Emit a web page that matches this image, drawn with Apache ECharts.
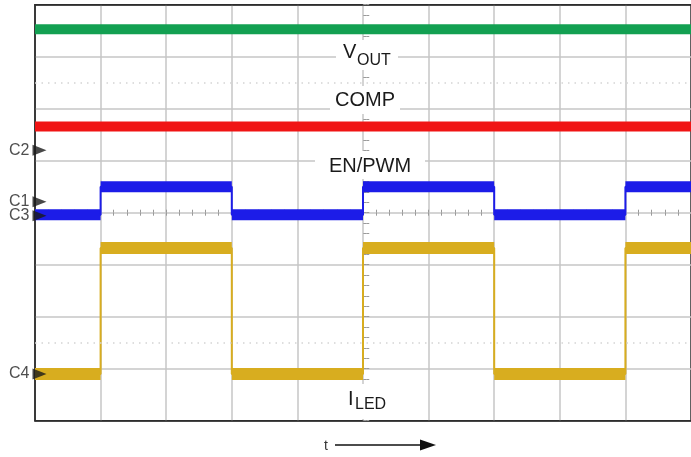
<!DOCTYPE html>
<html>
<head>
<meta charset="utf-8">
<script src="https://cdn.jsdelivr.net/npm/echarts@6/dist/echarts.min.js"></script>
<style>
html,body{margin:0;padding:0;background:#fff;}
#chart{width:691px;height:457px;}
</style>
</head>
<body>
<div id="chart"></div>
<script>
// ---- data (x in time divisions, y in vertical divisions) ----
const edges = [0, 1, 3, 5, 7, 9, 10];
const voutLevels = [7.53];
const compLevels = [5.66];
const enPwmLevels = [3.96, 4.50, 3.96, 4.50, 3.96, 4.50];
const iLedLevels = [0.90, 3.32, 0.90, 3.32, 0.90, 3.32];
const channelNames = ['C2', 'C1', 'C3', 'C4'];
const channelLevels = [5.20, 4.21, 3.94, 0.90];
const dottedLevels = [6.5, 1.5];

const GREEN = '#13a052', RED = '#f01414', BLUE = '#1c1ce8', GOLD = '#d8ad1f';

function stepData(levels, ed) {
  const pts = [];
  for (let i = 0; i < levels.length; i++) {
    pts.push([ed[i], levels[i]], [ed[i + 1], levels[i]]);
  }
  return pts;
}
function bandData(levels, ed) {
  const pts = [];
  for (let i = 0; i < levels.length; i++) {
    pts.push([ed[i], levels[i]], [ed[i + 1], levels[i]], [ed[i + 1], '-']);
  }
  return pts;
}
const fullSpan = [edges[0], edges[edges.length - 1]];

const chart = echarts.init(document.getElementById('chart'));
const gridColor = '#c6c6c6';
const tickStyle = { color: '#9a9a9a', width: 1 };

const T = 4.7, B = 36.3, L = 35, R = -6.5, CX = 366.25, CY = 212.7;

function tickAxis(gridIndex, position, extra) {
  return Object.assign({
    gridIndex, position, type: 'value', min: 0,
    axisLine: { show: false, onZero: false },
    axisLabel: { show: false },
    splitLine: { show: false },
    axisTick: { show: true, inside: true, length: 3, lineStyle: tickStyle },
    minorTick: { show: true, splitNumber: 5, length: 3, lineStyle: tickStyle }
  }, extra);
}

const option = {
  animation: false,
  backgroundColor: '#fff',
  grid: [
    { left: L, right: R, top: T, bottom: B, show: true, borderColor: '#2e2e2e', borderWidth: 1.5 },
    { left: L, right: R, top: T, bottom: 457 - CY },
    { left: L, right: R, top: CY, bottom: B },
    { left: L, right: 691 - CX, top: T, bottom: B },
    { left: CX, right: R, top: T, bottom: B }
  ],
  xAxis: [
    { gridIndex: 0, type: 'value', min: 0, max: 10, interval: 1,
      axisLine: { show: true, onZero: false, lineStyle: { color: '#2e2e2e', width: 1.5 } },
      axisTick: { show: false }, axisLabel: { show: false },
      splitLine: { show: true, showMinLine: false, showMaxLine: false, lineStyle: { color: gridColor, width: 1.5 } } },
    tickAxis(1, 'bottom', { max: 10, interval: 1 }),
    tickAxis(2, 'top', { max: 10, interval: 1 }),
    { gridIndex: 3, show: false, type: 'value', min: 0, max: 1 },
    { gridIndex: 4, show: false, type: 'value', min: 0, max: 1 },
    { gridIndex: 0, position: 'top', type: 'value', min: 0, max: 10,
      axisLine: { show: true, onZero: false, lineStyle: { color: '#2e2e2e', width: 1.5 } },
      axisTick: { show: false }, axisLabel: { show: false }, splitLine: { show: false } }
  ],
  yAxis: [
    { gridIndex: 0, type: 'value', min: 0, max: 8, interval: 1,
      axisLine: { show: true, onZero: false, lineStyle: { color: '#2e2e2e', width: 1.5 } },
      axisTick: { show: false }, axisLabel: { show: false },
      splitLine: { show: true, showMinLine: false, showMaxLine: false, lineStyle: { color: gridColor, width: 1.5 } } },
    { gridIndex: 1, show: false, type: 'value', min: 0, max: 1 },
    { gridIndex: 2, show: false, type: 'value', min: 0, max: 1 },
    tickAxis(3, 'right', { max: 8, interval: 1 }),
    tickAxis(4, 'left', { max: 8, interval: 1 })
  ],
  series: [
    { type: 'line', xAxisIndex: 0, yAxisIndex: 0, symbol: 'none', silent: true,
      data: [[fullSpan[0], voutLevels[0]], [fullSpan[1], voutLevels[0]]],
      lineStyle: { color: GREEN, width: 10 },
      markLine: { silent: true, symbol: 'none', label: { show: false },
        lineStyle: { color: '#d4d4d4', width: 1.5, type: [1.5, 5] },
        data: dottedLevels.map(v => ({ yAxis: v })) } },
    { type: 'line', xAxisIndex: 0, yAxisIndex: 0, symbol: 'none', silent: true,
      data: [[fullSpan[0], compLevels[0]], [fullSpan[1], compLevels[0]]],
      lineStyle: { color: RED, width: 10 } },
    { type: 'line', symbol: 'none', silent: true, connectNulls: false,
      data: bandData(enPwmLevels, edges), lineStyle: { color: BLUE, width: 11 } },
    { type: 'line', symbol: 'none', silent: true,
      data: stepData(enPwmLevels, edges), lineStyle: { color: BLUE, width: 2 } },
    { type: 'line', symbol: 'none', silent: true, connectNulls: false,
      data: bandData(iLedLevels, edges), lineStyle: { color: GOLD, width: 12 } },
    { type: 'line', symbol: 'none', silent: true,
      data: stepData(iLedLevels, edges), lineStyle: { color: GOLD, width: 2 } },
    { type: 'scatter', silent: true, clip: false, z: 10,
      symbol: 'triangle', symbolRotate: -90, symbolSize: [11, 14], symbolOffset: [4.5, 0],
      itemStyle: { color: '#1a1a1a' },
      label: { show: true, position: 'left', distance: 3, color: '#222',
        fontFamily: 'Liberation Sans, Arial, sans-serif', fontSize: 16,
        formatter: p => channelNames[p.dataIndex] },
      data: channelLevels.map(v => [0, v]) }
  ],
  graphic: [
    { type: 'rect', z: 1, shape: { x: 336, y: 40, width: 62, height: 30 }, style: { fill: '#fff' } },
    { type: 'rect', z: 1, shape: { x: 330, y: 86, width: 70, height: 28 }, style: { fill: '#fff' } },
    { type: 'rect', z: 1, shape: { x: 315, y: 151, width: 110, height: 28 }, style: { fill: '#fff' } },
    { type: 'rect', z: 1, shape: { x: 342, y: 384, width: 50, height: 35 }, style: { fill: '#fff' } },
    { type: 'text', z: 3, x: 343, y: 52, style: { text: 'V', fill: '#1a1a1a', font: '20px "Liberation Sans", Arial, sans-serif', textVerticalAlign: 'middle' } },
    { type: 'text', z: 3, x: 357, y: 61, style: { text: 'OUT', fill: '#1a1a1a', font: '16px "Liberation Sans", Arial, sans-serif', textVerticalAlign: 'middle' } },
    { type: 'text', z: 3, x: 365, y: 100, style: { text: 'COMP', fill: '#1a1a1a', font: '20px "Liberation Sans", Arial, sans-serif', textAlign: 'center', textVerticalAlign: 'middle' } },
    { type: 'text', z: 3, x: 370, y: 166, style: { text: 'EN/PWM', fill: '#1a1a1a', font: '20px "Liberation Sans", Arial, sans-serif', textAlign: 'center', textVerticalAlign: 'middle' } },
    { type: 'text', z: 3, x: 348, y: 399, style: { text: 'I', fill: '#1a1a1a', font: '20px "Liberation Sans", Arial, sans-serif', textVerticalAlign: 'middle' } },
    { type: 'text', z: 3, x: 355, y: 405, style: { text: 'LED', fill: '#1a1a1a', font: '16px "Liberation Sans", Arial, sans-serif', textVerticalAlign: 'middle' } },
    { type: 'text', z: 3, x: 326, y: 446, style: { text: 't', fill: '#333', font: '14px "Liberation Sans", Arial, sans-serif', textAlign: 'center', textVerticalAlign: 'middle' } },
    { type: 'line', z: 3, shape: { x1: 335, y1: 445, x2: 422, y2: 445 }, style: { stroke: '#111', lineWidth: 1.3 } },
    { type: 'polygon', z: 3, shape: { points: [[420, 439.5], [436, 445], [420, 450.5]] }, style: { fill: '#111' } }
  ]
};
chart.setOption(option);
</script>
</body>
</html>
